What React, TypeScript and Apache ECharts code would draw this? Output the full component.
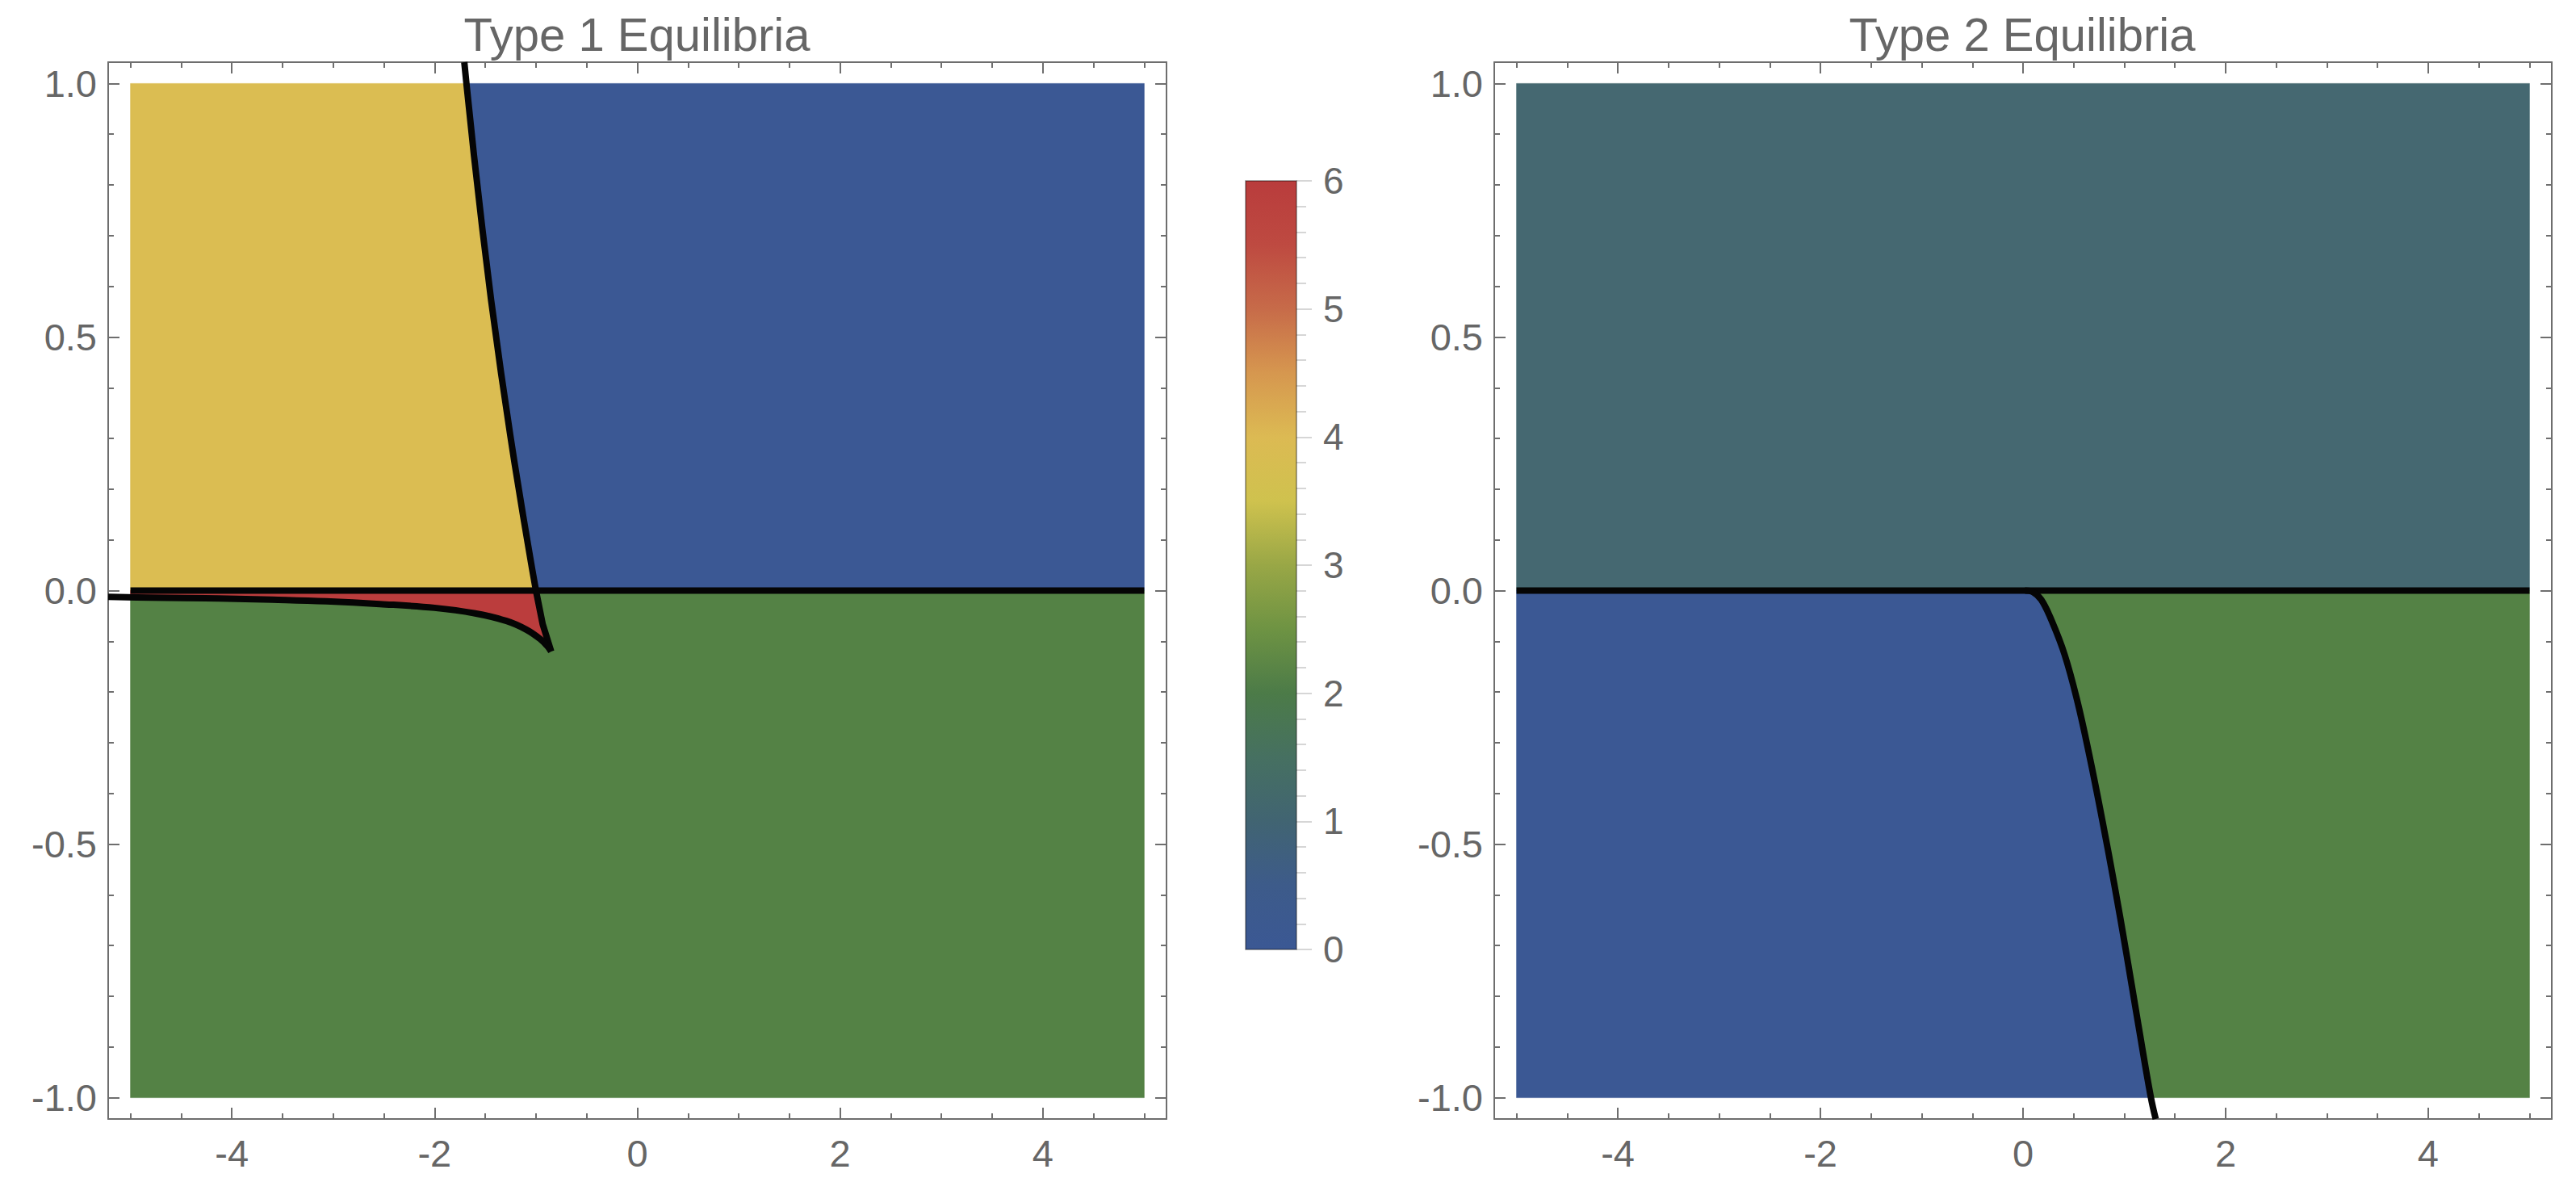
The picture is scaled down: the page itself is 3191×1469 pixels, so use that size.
import React, { useEffect, useRef } from 'react';
import * as echarts from 'echarts';

type Pt = [number, number];

// ---------- data ----------
const titles = ['Type 1 Equilibria', 'Type 2 Equilibria'];

const xMajorTicks = [-4, -2, 0, 2, 4];
const xMinorTicks = [-5, -4.5, -3.5, -3, -2.5, -1.5, -1, -0.5, 0.5, 1, 1.5, 2.5, 3, 3.5, 4.5, 5];
const yMajorTicks = [-1, -0.5, 0, 0.5, 1];
const yMinorTicks = [-0.9, -0.8, -0.7, -0.6, -0.4, -0.3, -0.2, -0.1, 0.1, 0.2, 0.3, 0.4, 0.6, 0.7, 0.8, 0.9];

// Type 1: steep boundary, from top of frame down to the cusp
const type1Steep: Pt[] = [
  [-1.707, 1.042], [-1.686, 1.0], [-1.611, 0.857], [-1.53, 0.715], [-1.442, 0.572],
  [-1.345, 0.43], [-1.253, 0.3057], [-1.212, 0.2527], [-1.169, 0.1996], [-1.126, 0.1465],
  [-1.081, 0.0934], [-1.036, 0.0403], [-1.0, 0.0], [-0.934, -0.066], [-0.85, -0.12],
];
// Type 1: lower boundary, from the cusp to the left edge of the frame
const type1Lower: Pt[] = [
  [-0.85, -0.12], [-0.89, -0.109], [-0.955, -0.096], [-1.095, -0.077], [-1.29, -0.06],
  [-1.6, -0.045], [-2.0, -0.034], [-2.54, -0.0265], [-3.07, -0.0212], [-3.6, -0.018],
  [-4.13, -0.0155], [-4.8, -0.0138], [-5.22, -0.0122],
];
// Type 2: boundary from y=0 down to the bottom of the frame
const type2Curve: Pt[] = [
  [0.02, 0], [0.1, -0.003], [0.18, -0.018], [0.28, -0.058], [0.41, -0.126], [0.535, -0.217],
  [0.655, -0.325], [0.778, -0.448], [0.9, -0.578], [1.02, -0.715], [1.14, -0.858],
  [1.26, -0.997], [1.31, -1.042],
];
const zeroLine: Pt[] = [[-5, 0], [5, 0]];

const regionColors = {
  yellow: '#DBBD52',
  blue: '#3B5894',
  green: '#548245',
  red: '#BB3D3D',
  slate: '#456871',
};

const colorbarMin = 0;
const colorbarMax = 6;
const colorbarStops: [number, string][] = [
  [0, '#3B5894'], [0.5, '#3D5B8A'], [1, '#416472'], [1.5, '#467061'], [2, '#4C7B48'],
  [2.5, '#6E9343'], [3, '#99A746'], [3.5, '#CFC24E'], [4, '#DCBA53'], [4.5, '#D6974F'],
  [5, '#C76B49'], [5.5, '#BE4A41'], [6, '#B93C3C'],
];

// ---------- helpers ----------
const X_RANGE: Pt = [-5.22, 5.22];
const Y_RANGE: Pt = [-1.042, 1.042];
const FONT = '"Liberation Sans", Arial, Helvetica, sans-serif';
const AXIS_COLOR = '#6e6e6e';
const TEXT_COLOR = '#666666';

function clipPoly(poly: Pt[]): Pt[] {
  const planes: [number, number, number][] = [[0, -5, 1], [0, 5, -1], [1, -1, 1], [1, 1, -1]];
  let out: Pt[] = poly;
  for (const [k, v, s] of planes) {
    const inp = out;
    out = [];
    for (let i = 0; i < inp.length; i++) {
      const a = inp[i];
      const b = inp[(i + 1) % inp.length];
      const ina = s * (a[k] - v) >= 0;
      const inb = s * (b[k] - v) >= 0;
      if (ina) out.push(a);
      if (ina !== inb) {
        const t = (v - a[k]) / (b[k] - a[k]);
        out.push([a[0] + t * (b[0] - a[0]), a[1] + t * (b[1] - a[1])]);
      }
    }
  }
  return out;
}

const steepUp = type1Steep.filter((p) => p[1] >= 0);
const steepDown = type1Steep.filter((p) => p[1] <= 0);
const lowerTail = type1Lower.slice(1);
const lowerEndY = lowerTail[lowerTail.length - 1][1];

const type1Regions: [Pt[], string][] = [
  [clipPoly([[-5.3, 0], [-5.3, 1.1], ...steepUp]), regionColors.yellow],
  [clipPoly([[steepUp[0][0], 1.1], [5.3, 1.1], [5.3, 0], ...steepUp.slice().reverse()]), regionColors.blue],
  [clipPoly([[-5.3, -1.1], [5.3, -1.1], [5.3, 0], ...steepDown, ...lowerTail, [-5.3, lowerEndY]]), regionColors.green],
  [clipPoly([[-5.3, 0], ...steepDown, ...lowerTail, [-5.3, lowerEndY]]), regionColors.red],
];
const type2Regions: [Pt[], string][] = [
  [clipPoly([[-5.3, 0], [5.3, 0], [5.3, 1.1], [-5.3, 1.1]]), regionColors.slate],
  [clipPoly([[-5.3, 0], ...type2Curve, [-5.3, -1.1]]), regionColors.blue],
  [clipPoly([[5.3, 0], [5.3, -1.1], ...type2Curve.slice().reverse()]), regionColors.green],
];

function frameAxes(dim: 'x' | 'y', grid: number) {
  const majors = dim === 'x' ? xMajorTicks : yMajorTicks;
  const minors = dim === 'x' ? xMinorTicks : yMinorTicks;
  const [min, max] = dim === 'x' ? X_RANGE : Y_RANGE;
  const positions = dim === 'x' ? ['bottom', 'top'] : ['left', 'right'];
  const out: any[] = [];
  positions.forEach((pos, pi) => {
    [true, false].forEach((isMajor) => {
      out.push({
        type: 'value',
        gridIndex: grid,
        position: pos,
        min,
        max,
        axisLine: { show: isMajor, onZero: false, lineStyle: { color: AXIS_COLOR, width: 2 } },
        axisTick: {
          show: true,
          inside: true,
          length: isMajor ? 14 : 7,
          customValues: isMajor ? majors : minors,
          lineStyle: { color: AXIS_COLOR, width: 2 },
        },
        axisLabel: {
          show: isMajor && pi === 0,
          customValues: majors,
          margin: dim === 'x' ? 19 : 14,
          fontSize: 47,
          color: TEXT_COLOR,
          fontFamily: FONT,
          formatter: (v: number) => (dim === 'y' ? v.toFixed(1) : String(v)),
        },
        splitLine: { show: false },
        minorTick: { show: false },
        minorSplitLine: { show: false },
      });
    });
  });
  return out;
}

function regionSeries(grid: number, poly: Pt[], color: string) {
  return {
    type: 'custom',
    xAxisIndex: grid * 4,
    yAxisIndex: grid * 4,
    silent: true,
    z: 1,
    clip: false,
    data: [[0, 0]],
    renderItem: (_p: any, api: any) => ({
      type: 'polygon',
      shape: { points: poly.map((p) => api.coord(p)) },
      style: { fill: color, stroke: color, lineWidth: 0.6 },
    }),
  };
}

function curveSeries(grid: number, data: Pt[], smooth: number | boolean) {
  return {
    type: 'line',
    xAxisIndex: grid * 4,
    yAxisIndex: grid * 4,
    data,
    smooth,
    showSymbol: false,
    symbol: 'none',
    silent: true,
    z: 5,
    lineStyle: { color: '#050505', width: 8, join: 'round' },
  };
}

export default function App() {
  const ref = useRef<HTMLDivElement>(null);
  useEffect(() => {
    if (!ref.current) return;
    const chart = echarts.init(ref.current, null, { renderer: 'svg' });
    const option: any = {
      animation: false,
      backgroundColor: '#ffffff',
      title: titles.map((t, i) => ({
        text: t,
        left: i === 0 ? 789 : 2505,
        top: 13,
        padding: 0,
        textAlign: 'center',
        textStyle: { fontSize: 58, fontWeight: 'normal', color: TEXT_COLOR, fontFamily: FONT },
      })),
      grid: [
        { left: 134, top: 77, width: 1311, height: 1309, outerBoundsMode: 'none' },
        { left: 1851, top: 77, width: 1310, height: 1309, outerBoundsMode: 'none' },
        { left: 1543, top: 224, width: 63, height: 952, outerBoundsMode: 'none' },
      ],
      xAxis: [
        ...frameAxes('x', 0),
        ...frameAxes('x', 1),
        { type: 'value', gridIndex: 2, min: 0, max: 1, show: false },
      ],
      yAxis: [
        ...frameAxes('y', 0),
        ...frameAxes('y', 1),
        {
          type: 'value',
          gridIndex: 2,
          position: 'right',
          min: colorbarMin,
          max: colorbarMax,
          interval: 1,
          axisLine: { show: false, onZero: false },
          axisTick: { show: true, inside: false, length: 19, lineStyle: { color: '#c8c8c8', width: 1.5 } },
          minorTick: { show: true, splitNumber: 5, length: 12, lineStyle: { color: '#c8c8c8', width: 1.5 } },
          axisLabel: { margin: 33, fontSize: 46, color: TEXT_COLOR, fontFamily: FONT },
          splitLine: { show: false },
        },
      ],
      series: [
        ...type1Regions.map(([poly, c]) => regionSeries(0, poly, c)),
        ...type2Regions.map(([poly, c]) => regionSeries(1, poly, c)),
        curveSeries(0, zeroLine, false),
        curveSeries(0, type1Steep, false),
        curveSeries(0, type1Lower, 0.4),
        curveSeries(1, zeroLine, false),
        curveSeries(1, type2Curve, 0.4),
        {
          type: 'custom',
          xAxisIndex: 8,
          yAxisIndex: 8,
          silent: true,
          data: [[0, 0]],
          renderItem: (_p: any, api: any) => {
            const a = api.coord([0, colorbarMin]);
            const b = api.coord([1, colorbarMax]);
            return {
              type: 'rect',
              shape: { x: a[0], y: b[1], width: b[0] - a[0], height: a[1] - b[1] },
              style: {
                fill: new echarts.graphic.LinearGradient(
                  0, 1, 0, 0,
                  colorbarStops.map(([v, c]) => ({ offset: (v - colorbarMin) / (colorbarMax - colorbarMin), color: c }))
                ),
                stroke: 'rgba(0,0,0,0.45)',
                lineWidth: 1.5,
              },
            };
          },
        },
      ],
    };
    chart.setOption(option);
    return () => chart.dispose();
  }, []);
  return (
    <div
      ref={ref}
      style={{ position: 'fixed', left: 0, top: 0, width: 3191, height: 1469, background: '#fff' }}
    />
  );
}
